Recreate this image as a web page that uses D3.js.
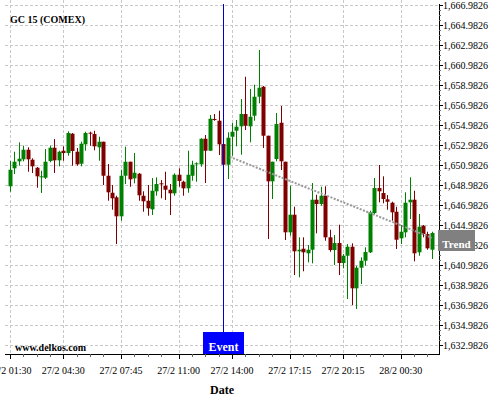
<!DOCTYPE html>
<html>
<head>
<meta charset="utf-8">
<script src="https://cdn.jsdelivr.net/npm/d3@7"></script>
<style>
  html, body { margin: 0; padding: 0; background: #fff; }
  svg { display: block; font-family: "Liberation Serif", "Times New Roman", serif; }
</style>
</head>
<body>
<svg id="chart" width="500" height="400"></svg>
<script>
// ---- data (15-minute candles, index 0 = 27/2 01:30) ----
const openV = [1648.85,1650.65,1651.35,1651.55,1652.51,1651.51,1650.71,1649.75,1649.71,1651.38,
  1652.71,1651.45,1652.41,1652.18,1654.11,1652.31,1651.11,1653.05,1654.21,1654.08,
  1652.75,1653.31,1649.91,1648.21,1647.75,1645.85,1649.91,1651.31,1649.65,1650.11,
  1647.91,1647.41,1646.55,1648.35,1649.15,1648.91,1648.51,1648.15,1650.01,1649.31,
  1648.65,1649.91,1651.05,1651.05,1653.61,1652.41,1655.58,1655.41,1653.08,1651.01,
  1653.81,1654.41,1654.85,1656.08,1654.85,1655.91,1657.81,1658.81,1653.91,1649.35,
  1651.58,1655.21,1651.31,1644.25,1646.01,1642.35,1642.61,1642.15,1642.51,1647.51,
  1647.08,1647.91,1643.75,1642.48,1643.18,1641.18,1641.91,1642.81,1638.65,1640.71,
  1641.41,1642.25,1646.18,1648.68,1648.18,1647.55,1647.21,1646.31,1643.65,1644.25,
  1647.25,1647.51,1642.25,1644.91,1644.08,1642.51];
const highV = [1651.38,1652.31,1653.25,1652.91,1652.75,1651.65,1650.78,1650.41,1652.58,1652.91,
  1653.58,1652.41,1652.85,1654.35,1654.18,1652.68,1653.31,1654.31,1654.31,1654.41,
  1653.81,1653.31,1651.08,1648.98,1647.91,1650.51,1652.81,1651.31,1652.18,1650.18,
  1648.35,1648.98,1649.68,1649.75,1649.48,1650.31,1649.08,1650.15,1650.65,1649.41,
  1652.41,1651.41,1651.25,1653.65,1653.98,1655.98,1656.08,1656.41,1653.25,1654.25,
  1655.18,1655.48,1657.58,1659.81,1658.58,1659.01,1662.48,1658.88,1653.91,1651.31,
  1656.18,1656.88,1651.31,1648.91,1646.81,1643.75,1643.75,1642.98,1649.18,1648.01,
  1648.81,1648.85,1644.51,1643.98,1645.01,1642.08,1643.08,1643.15,1640.91,1641.75,
  1642.75,1646.41,1649.68,1650.98,1649.85,1647.98,1647.31,1646.81,1644.98,1648.25,
  1649.75,1648.41,1646.08,1644.98,1644.31,1644.31];
const lowV = [1648.31,1650.08,1650.91,1651.35,1650.31,1650.18,1648.71,1648.18,1649.58,1651.25,
  1650.18,1650.85,1651.41,1651.91,1650.91,1650.91,1650.85,1652.41,1652.91,1652.45,
  1651.41,1648.98,1647.41,1646.51,1643.08,1645.41,1649.08,1648.81,1649.15,1647.41,
  1646.31,1645.91,1645.98,1647.91,1647.65,1647.48,1645.98,1647.91,1648.81,1647.91,
  1648.21,1649.41,1649.31,1650.81,1649.18,1652.41,1655.41,1651.98,1650.85,1649.58,
  1651.91,1652.85,1652.01,1654.48,1653.25,1655.41,1657.15,1652.68,1643.58,1647.58,
  1651.35,1650.48,1643.48,1643.91,1639.98,1639.75,1640.35,1641.25,1641.15,1644.15,
  1646.91,1643.41,1642.30,1640.98,1639.98,1640.65,1637.58,1636.98,1636.58,1639.08,
  1640.91,1642.18,1646.05,1647.25,1647.15,1646.51,1645.41,1642.58,1643.08,1643.75,
  1645.58,1641.35,1641.91,1643.75,1642.51,1641.58];
const closeV = [1650.51,1651.31,1651.61,1652.51,1651.55,1650.85,1649.85,1649.85,1651.31,1652.71,
  1651.45,1652.31,1652.18,1654.18,1652.38,1651.05,1653.11,1654.18,1654.15,1652.85,
  1653.31,1649.91,1648.25,1647.65,1645.85,1649.91,1651.31,1649.55,1650.21,1647.95,
  1647.35,1646.65,1648.41,1649.08,1649.05,1648.51,1648.15,1650.01,1649.38,1648.65,
  1650.01,1651.01,1651.15,1653.61,1652.41,1655.61,1655.48,1653.05,1651.01,1653.71,
  1654.31,1654.81,1656.08,1654.91,1655.81,1657.81,1658.71,1653.91,1649.35,1651.31,
  1655.08,1651.35,1644.25,1646.01,1642.35,1642.51,1642.25,1642.51,1647.51,1647.08,
  1647.91,1643.75,1642.48,1643.18,1641.18,1641.91,1642.81,1638.65,1640.71,1641.41,
  1642.28,1646.25,1648.68,1648.35,1647.58,1647.31,1646.25,1643.51,1644.31,1647.21,
  1647.51,1642.15,1644.81,1644.08,1642.65,1644.18];

const xTickIndex  = [0, 12, 25, 38, 50, 63, 75, 88];
const xTickLabels = ["27/2 01:30","27/2 04:30","27/2 07:45","27/2 11:00","27/2 14:00","27/2 17:15","27/2 20:15","28/2 00:30"];
const xMinorIndex = [3, 6, 9, 15, 18, 21, 28, 31, 34, 41, 44, 47, 53, 56, 59, 66, 69, 72, 78, 81, 84, 91, 94];
const yTickValues = [1632.9826,1634.9826,1636.9826,1638.9826,1640.9826,1642.9826,1644.9826,1646.9826,1648.9826,
  1650.9826,1652.9826,1654.9826,1656.9826,1658.9826,1660.9826,1662.9826,1664.9826,1666.9826];
const eventIndex = 48;
const eventLabel = "Event";
const trendIndex = [49.5, 95];
const trendValue = [1651.80, 1643.70];
const trendLabel = "Trend";
const title = "GC 15 (COMEX)";
const watermark = "www.delkos.com";
const xTitle = "Date";

// ---- layout ----
const L = 5, R = 439, T = 0, B = 354;
const svg = d3.select("#chart");
svg.append("rect").attr("width", 500).attr("height", 400).attr("fill", "#fff");

const x = d3.scaleLinear().domain([-1.1, 96.6]).range([L, R]);
const y = d3.scaleLinear().domain([1632.0826, 1667.4826]).range([B, T]);
const candles = openV.map((o, i) => ({i, o, h: highV[i], l: lowV[i], c: closeV[i]}));

// grid
const grid = svg.append("g").attr("stroke", "#c8c8c8").attr("stroke-width", 1).attr("stroke-dasharray", "3,2");
grid.selectAll("line.h").data(yTickValues).enter().append("line")
  .attr("x1", L).attr("x2", R)
  .attr("y1", d => Math.round(y(d)) + 0.5).attr("y2", d => Math.round(y(d)) + 0.5);
grid.selectAll("line.v").data(xTickIndex).enter().append("line")
  .attr("y1", T).attr("y2", B)
  .attr("x1", d => Math.round(x(d)) + 0.5).attr("x2", d => Math.round(x(d)) + 0.5);

// title + watermark
svg.append("text").attr("x", 10).attr("y", 23).attr("font-size", 10).attr("font-weight", "bold").text(title);
svg.append("text").attr("x", 15).attr("y", 351).attr("font-size", 10).attr("font-weight", "bold").text(watermark);

// candles
const up = "#008000", dn = "#800000";
const cg = svg.append("g");
cg.selectAll("line.wick").data(candles).enter().append("line")
  .attr("x1", d => Math.round(x(d.i)) + 0.5).attr("x2", d => Math.round(x(d.i)) + 0.5)
  .attr("y1", d => y(d.h)).attr("y2", d => y(d.l))
  .attr("stroke", d => d.c >= d.o ? up : dn).attr("stroke-width", 1);
const bw = 4;
cg.selectAll("rect.body").data(candles).enter().append("rect")
  .attr("x", d => Math.round(x(d.i)) + 0.5 - bw / 2)
  .attr("width", bw)
  .attr("y", d => y(Math.max(d.o, d.c)))
  .attr("height", d => Math.max(1, Math.abs(y(d.o) - y(d.c))))
  .attr("fill", d => d.c >= d.o ? up : dn);

// trend line
svg.append("line")
  .attr("x1", x(trendIndex[0])).attr("y1", y(trendValue[0]))
  .attr("x2", x(trendIndex[1])).attr("y2", y(trendValue[1]))
  .attr("stroke", "#999").attr("stroke-width", 2).attr("stroke-dasharray", "2,1.5");

// event line + label
const ex = Math.round(x(eventIndex)) + 0.5;
svg.append("line").attr("x1", ex).attr("x2", ex).attr("y1", 4).attr("y2", 332)
  .attr("stroke", "#0000cc").attr("stroke-width", 1);
svg.append("rect").attr("x", ex - 20.5).attr("y", 332).attr("width", 41).attr("height", B - 332).attr("fill", "#0000ff");
svg.append("text").attr("x", ex).attr("y", 351).attr("text-anchor", "middle")
  .attr("font-size", 12).attr("font-weight", "bold").attr("fill", "#fff").text(eventLabel);

// x axis
const xa = svg.append("g");
xa.append("line").attr("x1", L).attr("x2", R).attr("y1", B + 0.5).attr("y2", B + 0.5).attr("stroke", "#000");
xa.selectAll("line.tk").data(xTickIndex).enter().append("line")
  .attr("x1", d => Math.round(x(d)) + 0.5).attr("x2", d => Math.round(x(d)) + 0.5)
  .attr("y1", B).attr("y2", B + 5).attr("stroke", "#000");
xa.selectAll("line.mtk").data(xMinorIndex).enter().append("line")
  .attr("x1", d => Math.round(x(d)) + 0.5).attr("x2", d => Math.round(x(d)) + 0.5)
  .attr("y1", B).attr("y2", B + 3).attr("stroke", "#666");
xa.selectAll("text").data(xTickIndex).enter().append("text")
  .attr("x", d => x(d)).attr("y", 374).attr("text-anchor", "middle").attr("font-size", 10)
  .text((d, k) => xTickLabels[k]);
svg.append("text").attr("x", (L + R) / 2).attr("y", 394).attr("text-anchor", "middle")
  .attr("font-size", 12).attr("font-weight", "bold").text(xTitle);

// y axis (right)
const ya = svg.append("g");
ya.append("line").attr("x1", R + 0.5).attr("x2", R + 0.5).attr("y1", 4).attr("y2", B + 1).attr("stroke", "#000");
ya.selectAll("line.tk").data(yTickValues).enter().append("line")
  .attr("x1", R).attr("x2", R + 4)
  .attr("y1", d => Math.round(y(d)) + 0.5).attr("y2", d => Math.round(y(d)) + 0.5).attr("stroke", "#000");
const yMinor = yTickValues.slice(0, -1).flatMap(v => [v + 0.5, v + 1, v + 1.5]);
ya.selectAll("line.mtk").data(yMinor).enter().append("line")
  .attr("x1", R).attr("x2", R + 2)
  .attr("y1", d => Math.round(y(d)) + 0.5).attr("y2", d => Math.round(y(d)) + 0.5).attr("stroke", "#666");
const fmt = d3.format(",.4f");
ya.selectAll("text").data(yTickValues).enter().append("text")
  .attr("x", 443).attr("y", d => y(d) + 3.5).attr("font-size", 10).text(d => fmt(d));

// trend label
svg.append("rect").attr("x", 438).attr("y", 230).attr("width", 37).attr("height", 21).attr("fill", "#808080");
svg.append("text").attr("x", 456.5).attr("y", 248).attr("text-anchor", "middle")
  .attr("font-size", 11).attr("font-weight", "bold").attr("fill", "#fff").text(trendLabel);
</script>
</body>
</html>
